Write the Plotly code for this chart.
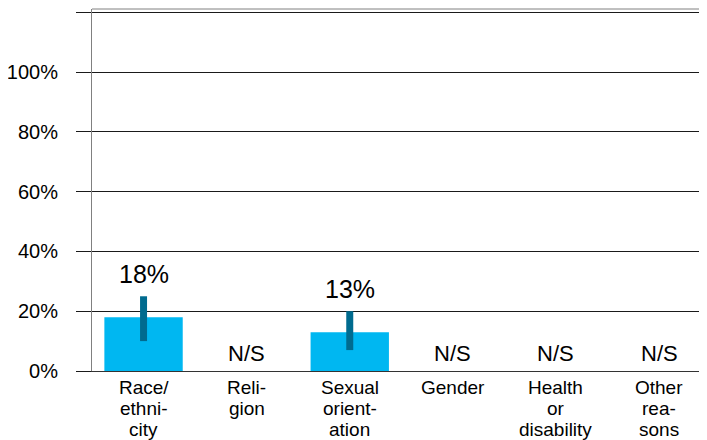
import plotly.graph_objects as go

# ---- data ----
categories = ["Race/ethnicity", "Religion", "Sexual orientation", "Gender",
              "Health or disability", "Other reasons"]
category_lines = [["Race/", "ethni-", "city"], ["Reli-", "gion"],
                  ["Sexual", "orient-", "ation"], ["Gender"],
                  ["Health", "or", "disability"], ["Other", "rea-", "sons"]]
values = [18, None, 13, None, None, None]
ci_low = [10, None, 7, None, None, None]
ci_high = [25, None, 20, None, None, None]
value_labels = ["18%", "N/S", "13%", "N/S", "N/S", "N/S"]
y_tickvals = [0, 20, 40, 60, 80, 100, 120]
y_ticktext = ["0%", "20%", "40%", "60%", "80%", "100%", ""]

FONT = "Liberation Sans, Arial, sans-serif"
BAR = "#00B7F1"
ERR = "#006B8F"

err_plus = [(h - v) if v is not None else None for v, h in zip(values, ci_high)]
err_minus = [(v - l) if v is not None else None for v, l in zip(values, ci_low)]

fig = go.Figure()
fig.add_trace(go.Bar(
    x=categories, y=[v if v is not None else 0 for v in values],
    width=0.76, marker=dict(color=BAR, line=dict(width=0)),
    error_y=dict(type="data", symmetric=False,
                 array=[e if e is not None else 0 for e in err_plus],
                 arrayminus=[e if e is not None else 0 for e in err_minus],
                 color=ERR, thickness=7, width=0),
    hoverinfo="skip",
))

annotations = []
for cat, v, hi, lab in zip(categories, values, ci_high, value_labels):
    if v is None:
        annotations.append(dict(x=cat, y=0, xref="x", yref="y", text=lab,
                                showarrow=False, yanchor="bottom", yshift=3,
                                font=dict(family=FONT, size=22, color="black")))
    else:
        annotations.append(dict(x=cat, y=hi, xref="x", yref="y", text=lab,
                                showarrow=False, yanchor="bottom", yshift=6,
                                font=dict(family=FONT, size=25, color="black")))

for cat, lines in zip(categories, category_lines):
    for i, line in enumerate(lines):
        annotations.append(dict(x=cat, y=0, xref="x", yref="y", text=line,
                                showarrow=False, yanchor="top",
                                yshift=-4 - i * 20.8,
                                font=dict(family=FONT, size=19, color="black")))

# page body adds an 8px offset, so the figure is sized to fit the window
fig.update_layout(
    width=699, height=432,
    margin=dict(l=84, r=0, t=1, b=69),
    paper_bgcolor="white", plot_bgcolor="white",
    showlegend=False, bargap=0.24,
    annotations=annotations,
    xaxis=dict(type="category", range=[-0.5, 5.465], showticklabels=False,
               showgrid=False, zeroline=False, showline=True,
               linecolor="#333333", linewidth=1, ticks=""),
    yaxis=dict(range=[0, 121.1], tickvals=y_tickvals, ticktext=y_ticktext,
               showgrid=True, gridcolor="#1a1a1a", gridwidth=1,
               zeroline=False, showline=True, linecolor="#808080", linewidth=1,
               ticks="outside", ticklen=15, tickcolor="#1a1a1a",
               ticklabelstandoff=14,
               tickfont=dict(family=FONT, size=20, color="black")),
    shapes=[dict(type="line", xref="paper", yref="paper", x0=0, x1=1,
                 y0=1, y1=1, line=dict(color="#808080", width=1))],
)

fig.write_html("out.html")
